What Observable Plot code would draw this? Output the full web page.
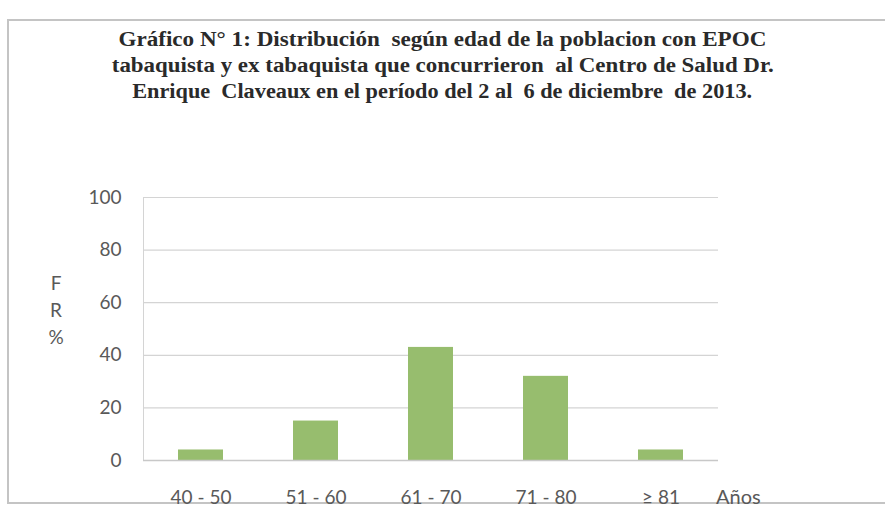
<!DOCTYPE html>
<html>
<head>
<meta charset="utf-8">
<script src="https://cdn.jsdelivr.net/npm/d3@7"></script>
<script src="https://cdn.jsdelivr.net/npm/@observablehq/plot@0.6"></script>
<style>
  html, body { margin: 0; padding: 0; background: #fff; }
  #wrap { position: relative; width: 885px; height: 512px; overflow: hidden; background: #fff; }
  #frame { position: absolute; left: 7px; top: 19px; width: 890px; height: 485px; border-left: 2px solid #c4c4c4; border-top: 2px solid #c4c4c4; border-bottom: 2px solid #c4c4c4; box-sizing: border-box; }
  #title { position: absolute; left: 0; top: 26px; width: 885px; text-align: center; font-family: "Liberation Serif", "DejaVu Serif", serif; font-weight: bold; font-size: 20px; line-height: 26px; color: #2a2a2a; }
  #title div { white-space: nowrap; }
  #chart { position: absolute; left: 0; top: 170px; }
  .lab { position: absolute; font-family: Lato, "Open Sans", sans-serif; font-size: 19px; color: #595959; }
</style>
</head>
<body>
<div id="wrap">
  <div id="frame"></div>
  <div id="title"></div>
  <div id="chart"></div>
  <div class="lab" id="ylab" style="left:46px; top:269px; line-height:27px; text-align:center; width:20px;">F<br>R<br>%</div>
  <div class="lab" id="xlab" style="left:716px; top:484px; font-size:20px;">Años</div>
</div>
<script>
const titleLines = [
  "Gráfico N° 1: Distribución  según edad de la poblacion con EPOC",
  "tabaquista y ex tabaquista que concurrieron  al Centro de Salud Dr.",
  "Enrique  Claveaux en el período del 2 al  6 de diciembre  de 2013."
];
const categories = ["40 - 50", "51 - 60", "61 - 70", "71 - 80", "≥ 81"];
const values = [4, 15, 43, 32, 4];
const yTicks = [0, 20, 40, 60, 80, 100];

const titleEl = document.getElementById("title");
const lineWidths = [648, 662, 620];
titleLines.forEach((t, i) => {
  const d = document.createElement("div");
  const s = document.createElement("span");
  s.textContent = t;
  s.style.display = "inline-block";
  s.style.whiteSpace = "pre";
  d.appendChild(s);
  titleEl.appendChild(d);
  const w = s.getBoundingClientRect().width;
  s.style.transform = `scaleX(${lineWidths[i] / w})`;
});

const data = categories.map((c, i) => ({ cat: c, val: values[i] }));

const chart = Plot.plot({
  width: 885,
  height: 342,
  marginTop: 27,
  marginBottom: 52,
  marginLeft: 143,
  marginRight: 167,
  style: { fontFamily: "Lato, 'Open Sans', sans-serif", fontSize: "19px", color: "#595959", background: "transparent" },
  x: { domain: categories, paddingInner: 0.61, paddingOuter: 0.285, label: null, tickSize: 0, tickPadding: 30 },
  y: { domain: [0, 100], ticks: yTicks, label: null, tickSize: 0, tickPadding: 22 },
  marks: [
    Plot.gridY(yTicks, { stroke: "#d4d4d4", strokeOpacity: 1, strokeWidth: 1.2 }),
    Plot.frame({ anchor: "left", stroke: "#d4d4d4", strokeOpacity: 1 }),
    Plot.barY(data, { x: "cat", y: "val", fill: "#97bd6e" }),
    Plot.ruleY([0], { stroke: "#c8c8c8", strokeWidth: 1.5 })
  ]
});
document.getElementById("chart").appendChild(chart);
</script>
</body>
</html>
